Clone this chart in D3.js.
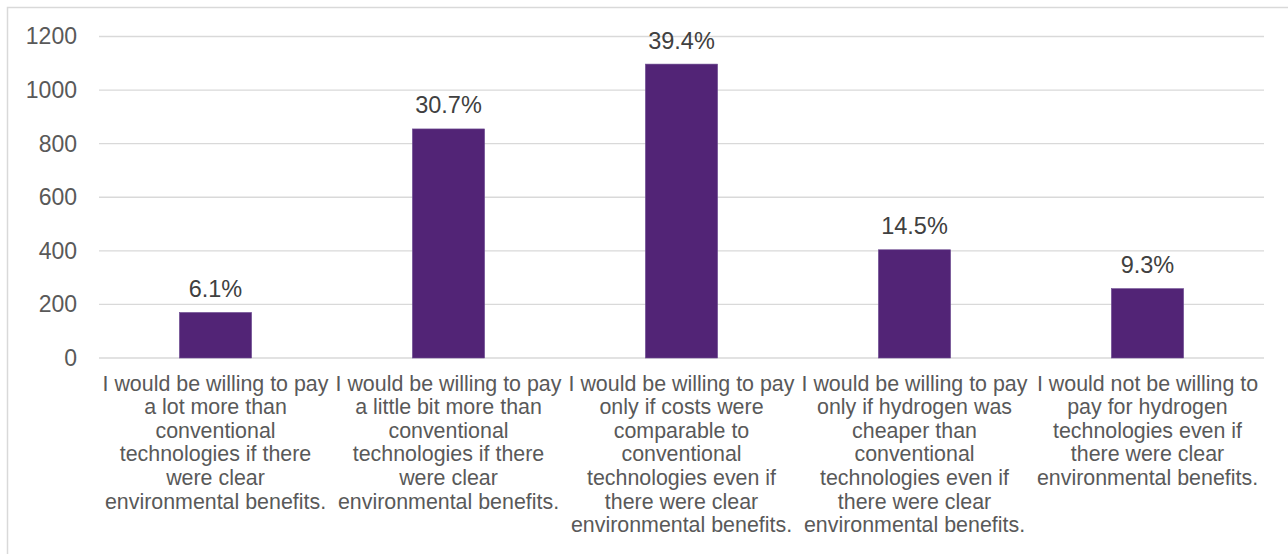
<!DOCTYPE html>
<html>
<head>
<meta charset="utf-8">
<script src="https://cdn.jsdelivr.net/npm/d3@7"></script>
<style>
  html, body { margin: 0; padding: 0; background: #ffffff; }
  svg { display: block; font-family: Arial, "Liberation Sans", sans-serif; }
</style>
</head>
<body>
<svg id="chart" width="1288" height="554"></svg>
<script>
// Survey responses: willingness to pay for hydrogen technologies
const categories = [
  ["I would be willing to pay", "a lot more than", "conventional", "technologies if there", "were clear", "environmental benefits."],
  ["I would be willing to pay", "a little bit more than", "conventional", "technologies if there", "were clear", "environmental benefits."],
  ["I would be willing to pay", "only if costs were", "comparable to", "conventional", "technologies even if", "there were clear", "environmental benefits."],
  ["I would be willing to pay", "only if hydrogen was", "cheaper than", "conventional", "technologies even if", "there were clear", "environmental benefits."],
  ["I would not be willing to", "pay for hydrogen", "technologies even if", "there were clear", "environmental benefits."]
];
const counts = [170, 855, 1097, 404, 259];
const shareLabels = ["6.1%", "30.7%", "39.4%", "14.5%", "9.3%"];
const yTicks = [0, 200, 400, 600, 800, 1000, 1200];

const svg = d3.select("#chart");

// outer chart frame
svg.append("rect")
  .attr("x", 7.5).attr("y", 7.5)
  .attr("width", 1300).attr("height", 570)
  .attr("fill", "none")
  .attr("stroke", "#d9d9d9")
  .attr("stroke-width", 1.5);

const plot = { left: 99, right: 1264, top: 36.5, bottom: 358 };

const x = d3.scaleBand()
  .domain(d3.range(categories.length))
  .range([plot.left, plot.right])
  .padding(0);

const y = d3.scaleLinear()
  .domain([0, 1200])
  .range([plot.bottom, plot.top]);

const barWidth = x.bandwidth() * 0.31;

// horizontal gridlines
svg.append("g")
  .selectAll("line")
  .data(yTicks)
  .join("line")
  .attr("x1", plot.left).attr("x2", plot.right)
  .attr("y1", d => y(d)).attr("y2", d => y(d))
  .attr("stroke", "#d9d9d9")
  .attr("stroke-width", 1.4);

// y axis tick labels
const yAxis = d3.axisLeft(y)
  .tickValues(yTicks)
  .tickFormat(d3.format("d"))
  .tickSize(0)
  .tickPadding(22);
const yg = svg.append("g")
  .attr("transform", `translate(${plot.left},0)`)
  .call(yAxis);
yg.select(".domain").remove();
yg.selectAll("text")
  .attr("fill", "#595959")
  .style("font-size", "23px")
  .style("font-family", "Arial, 'Liberation Sans', sans-serif");

// bars
svg.append("g")
  .selectAll("rect")
  .data(counts)
  .join("rect")
  .attr("x", (d, i) => x(i) + x.bandwidth() / 2 - barWidth / 2)
  .attr("y", d => y(d))
  .attr("width", barWidth)
  .attr("height", d => y(0) - y(d))
  .attr("fill", "#522476")
  .attr("stroke", "#6f4f93")
  .attr("stroke-width", 0.6);

// share labels above bars
svg.append("g")
  .selectAll("text")
  .data(counts)
  .join("text")
  .attr("x", (d, i) => x(i) + x.bandwidth() / 2)
  .attr("y", d => y(d) - 15.5)
  .attr("text-anchor", "middle")
  .attr("fill", "#404040")
  .style("font-size", "23.5px")
  .text((d, i) => shareLabels[i]);

// wrapped category labels
const catG = svg.append("g")
  .selectAll("text")
  .data(categories)
  .join("text")
  .attr("text-anchor", "middle")
  .attr("fill", "#595959")
  .style("font-size", "21.4px");

catG.each(function(lines, i) {
  const cx = x(i) + x.bandwidth() / 2;
  d3.select(this).selectAll("tspan")
    .data(lines)
    .join("tspan")
    .attr("x", cx)
    .attr("y", (d, j) => 390.5 + j * 23.6)
    .text(d => d);
});
</script>
